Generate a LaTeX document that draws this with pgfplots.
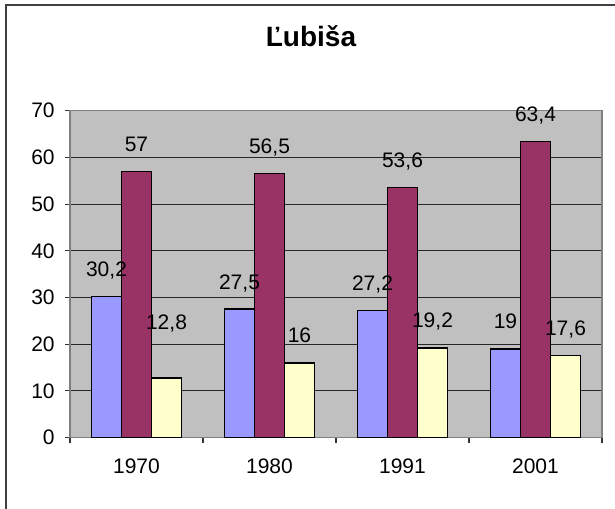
\documentclass[border=0pt]{standalone}
\usepackage{pgfplots}
\pgfplotsset{compat=1.18}
\usepackage{pgfplotstable}
\usepackage{fontspec}
\setmainfont{Liberation Sans}
\definecolor{serA}{HTML}{9999FF}
\definecolor{serB}{HTML}{993366}
\definecolor{serC}{HTML}{FFFFCC}
\definecolor{plotbg}{HTML}{C0C0C0}
\definecolor{frame}{HTML}{404040}

% x = category index, lift = label offset above bar (pt)
\pgfplotstableread{
x y lift
0 30.2 15
1 27.5 15
2 27.2 15
3 19.0 15
}\serAtab
\pgfplotstableread{
x y lift
0 57.0 15
1 56.5 15
2 53.6 15
3 63.4 15
}\serBtab
\pgfplotstableread{
x y lift
0 12.8 36
1 16.0 15
2 19.2 15
3 17.6 15
}\serCtab

\begin{document}
\begin{tikzpicture}[x=0.75pt,y=0.75pt]
\path[use as bounding box] (0,0) rectangle (615,509);
\draw[frame, line width=1.5pt] (6,-2) -- (6,504) -- (617,504);
\node[font=\bfseries\fontsize{21}{25}\selectfont] at (311,473) {Ľubiša};
\begin{axis}[
  at={(52.5pt,53.5pt)}, anchor=south west,
  scale only axis, width=399pt, height=245.25pt,
  xmin=-0.5, xmax=3.5, ymin=0, ymax=70,
  ybar=0pt, bar width=22.5pt,
  xtick={0,1,2,3}, xticklabels={1970,1980,1991,2001},
  minor xtick={-0.5,0.5,1.5,2.5,3.5},
  major x tick style={draw=none},
  ytick={0,10,...,70},
  xtick pos=left, ytick pos=left,
  tick align=outside, major tick length=4pt, minor tick length=4pt,
  tick style={black!80, line width=0.8pt},
  ymajorgrids, major grid style={black!85, line width=0.8pt},
  axis background/.style={fill=plotbg},
  axis line style={black!50, line width=0.9pt},
  tick label style={font=\fontsize{15.75}{18}\selectfont},
  yticklabel style={xshift=-4pt},
  xticklabel style={yshift=-8pt},
  /pgf/number format/assume math mode=true,
  /pgf/number format/use comma,
  nodes near coords,
  visualization depends on={\thisrow{lift} \as \lift},
  every node near coord/.append style={font=\fontsize{15.75}{18}\selectfont,
    anchor=base, inner sep=0pt, yshift=\lift pt, text=black,
    /pgf/number format/fixed, /pgf/number format/precision=1},
  every axis plot/.append style={draw=black, line width=1.1pt},
]
\addplot[fill=serA] table[x=x,y=y] {\serAtab};
\addplot[fill=serB] table[x=x,y=y] {\serBtab};
\addplot[fill=serC] table[x=x,y=y] {\serCtab};
\end{axis}
\end{tikzpicture}
\end{document}
